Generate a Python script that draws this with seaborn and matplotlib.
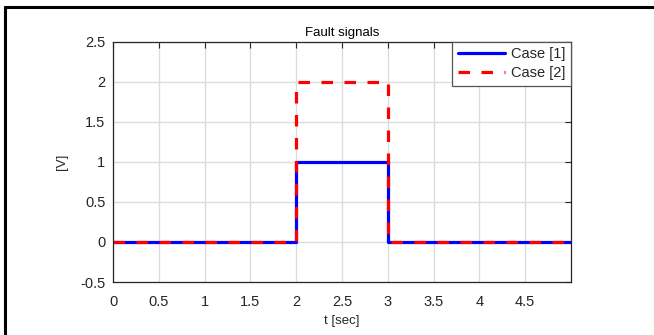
import matplotlib
matplotlib.use("Agg")
import matplotlib.pyplot as plt
import seaborn as sns
import pandas as pd
from matplotlib.lines import Line2D

t = [0, 2, 2, 3, 3, 5]
case1 = [0, 0, 1, 1, 0, 0]
case2 = [0, 0, 2, 2, 0, 0]
xticks = [0, 0.5, 1, 1.5, 2, 2.5, 3, 3.5, 4, 4.5]
yticks = [-0.5, 0, 0.5, 1, 1.5, 2, 2.5]

sns.set_theme(style="white")
plt.rcParams['font.family'] = ['Liberation Sans', 'DejaVu Sans']

fig = plt.figure(figsize=(6.54, 3.35), dpi=100)
ax = fig.add_axes([113/654, 1-282/335, (571-113)/654, (282-41.5)/335])

df1 = pd.DataFrame({"t": t, "v": case1})
df2 = pd.DataFrame({"t": t, "v": case2})
sns.lineplot(data=df1, x="t", y="v", ax=ax, estimator=None, sort=False,
             color="#0000ff", linewidth=2.3, label="Case [1]")
sns.lineplot(data=df2, x="t", y="v", ax=ax, estimator=None, sort=False,
             color="#ff0000", linewidth=2.3, label="Case [2]")
ax.lines[1].set_dashes([3.6, 3.6])

ax.set_xlim(0, 5)
ax.set_ylim(-0.5, 2.5)
ax.set_xticks(xticks)
ax.set_yticks(yticks)
ax.set_xticklabels([f"{v:g}" for v in xticks])
ax.set_yticklabels([f"{v:g}" for v in yticks])
ax.grid(True, color="#dcdcdc", linewidth=1.0)
ax.set_axisbelow(True)
ax.tick_params(direction="in", length=4, width=0.8, top=True, right=True,
               labelsize=10.5, colors="#262626")
ax.tick_params(axis="x", pad=9.5)
ax.tick_params(axis="y", pad=5.5)
for s in ax.spines.values():
    s.set_color("#262626")
    s.set_linewidth(0.9)

ax.set_title("Fault signals", fontsize=9.5, color="#000000", pad=4)
ax.set_xlabel("t [sec]", fontsize=9.5, color="#262626", labelpad=4)
ax.set_ylabel("[V]", fontsize=9.5, color="#262626", labelpad=9)

leg = ax.legend(loc="upper right", borderaxespad=0, fontsize=10.5,
                frameon=True, fancybox=False, handlelength=3.2,
                handletextpad=0.4, borderpad=0.4, labelspacing=0.3)
leg.get_frame().set_edgecolor("#555555")
leg.get_frame().set_linewidth(0.9)
leg.get_frame().set_alpha(1)

fig.add_artist(Line2D([5.5/654, 1], [1-7/335, 1-7/335], color="black",
                      linewidth=2.2, transform=fig.transFigure))
fig.add_artist(Line2D([5.5/654, 5.5/654], [0, 1-7/335], color="black",
                      linewidth=2.2, transform=fig.transFigure))

fig.savefig("out.png", dpi=100)
